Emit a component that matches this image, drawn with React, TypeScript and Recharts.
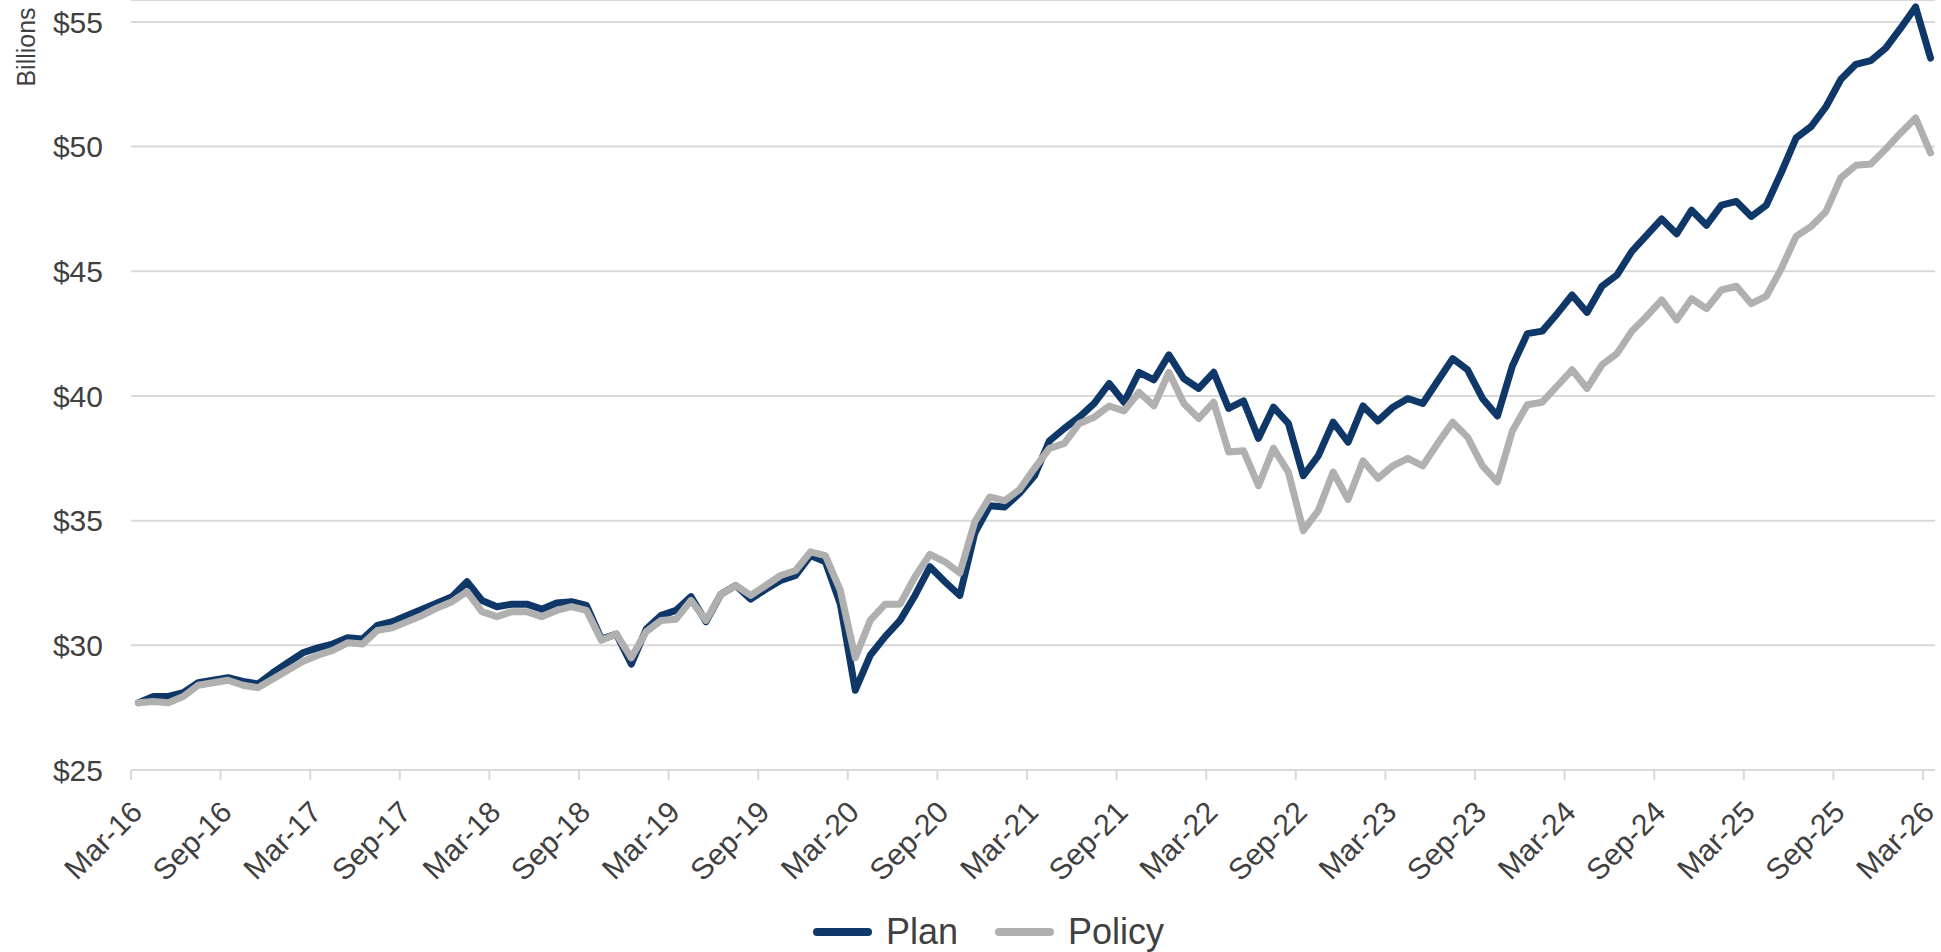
import React from "react";
import { LineChart, Line, CartesianGrid, XAxis, YAxis } from "recharts";

const FONT = '"Liberation Sans", Arial, sans-serif';
const TEXT = "#404040";
const GRID = "#d9d9d9";
const PLAN_COLOR = "#0f3868";
const POLICY_COLOR = "#b0b0b0";

// Monthly market value, Mar-16 through Mar-26, $ billions
const planValues = [
  27.7, 27.95, 27.95, 28.1, 28.5, 28.6, 28.7, 28.55, 28.45, 28.9,
  29.3, 29.7, 29.9, 30.05, 30.3, 30.25, 30.8, 30.95, 31.2, 31.45,
  31.7, 31.95, 32.55, 31.8, 31.55, 31.65, 31.65, 31.45, 31.7, 31.75,
  31.6, 30.25, 30.45, 29.25, 30.65, 31.2, 31.4, 31.95, 30.95, 32.05,
  32.4, 31.85, 32.25, 32.6, 32.8, 33.6, 33.35, 31.65, 28.2, 29.6,
  30.35, 31.0, 32.0, 33.15, 32.55, 32.0, 34.5, 35.6, 35.55, 36.1,
  36.8, 38.2, 38.7, 39.15, 39.7, 40.5, 39.75, 40.95, 40.65, 41.65,
  40.7, 40.3, 40.95, 39.5, 39.8, 38.3, 39.55, 38.9, 36.8, 37.6,
  38.95, 38.15, 39.6, 39.0, 39.55, 39.9, 39.7, 40.6, 41.5, 41.05,
  39.9, 39.2, 41.2, 42.5, 42.6, 43.3, 44.05, 43.35, 44.4, 44.85,
  45.8, 46.45, 47.1, 46.5, 47.45, 46.85, 47.65, 47.8, 47.2, 47.65,
  48.95, 50.35, 50.8, 51.6, 52.7, 53.3, 53.45, 53.95, 54.75, 55.6,
  53.55,
];

const policyValues = [
  27.7, 27.75, 27.7, 27.95, 28.4, 28.5, 28.6, 28.4, 28.3, 28.65,
  29.0, 29.35, 29.6, 29.8, 30.1, 30.05, 30.6, 30.7, 30.95, 31.2,
  31.5, 31.75, 32.15, 31.35, 31.15, 31.35, 31.35, 31.15, 31.4, 31.55,
  31.4, 30.2, 30.45, 29.5, 30.55, 31.0, 31.05, 31.8, 31.0, 32.05,
  32.4, 32.0, 32.4, 32.8, 33.0, 33.75, 33.6, 32.2, 29.5, 31.0,
  31.65, 31.65, 32.75, 33.65, 33.35, 32.9, 34.95, 35.95, 35.8, 36.25,
  37.1, 37.9, 38.1, 38.9, 39.15, 39.6, 39.4, 40.15, 39.6, 40.95,
  39.7, 39.1, 39.75, 37.75, 37.8, 36.4, 37.9, 36.95, 34.6, 35.4,
  36.95, 35.85, 37.4, 36.7, 37.2, 37.5, 37.2, 38.1, 38.95, 38.35,
  37.2, 36.55, 38.6, 39.65, 39.75, 40.4, 41.05, 40.3, 41.25, 41.7,
  42.6, 43.2, 43.85, 43.05, 43.9, 43.5, 44.25, 44.4, 43.7, 44.0,
  45.1, 46.4, 46.8, 47.4, 48.75, 49.25, 49.3, 49.9, 50.55, 51.15,
  49.75,
];

const tickLabels = [
  "Mar-16", "Sep-16", "Mar-17", "Sep-17", "Mar-18", "Sep-18", "Mar-19",
  "Sep-19", "Mar-20", "Sep-20", "Mar-21", "Sep-21", "Mar-22", "Sep-22",
  "Mar-23", "Sep-23", "Mar-24", "Sep-24", "Mar-25", "Sep-25", "Mar-26",
];

const yTicks = [25, 30, 35, 40, 45, 50, 55];

// x is months since Mar-16; each value sits mid-month
const data = planValues.map((plan, i) => ({
  month: i + 0.5,
  plan,
  policy: policyValues[i],
}));

const xTicks = tickLabels.map((_, i) => i * 6);

const DateTick = (props: any) => {
  const { x, y, payload } = props;
  const label = tickLabels[Math.round(payload.value / 6)];
  const ax = x + 13;
  const ay = y + 32;
  return (
    <text
      x={ax}
      y={ay}
      transform={`rotate(-45, ${ax}, ${ay})`}
      textAnchor="end"
      fill={TEXT}
      fontSize={30}
      fontFamily={FONT}
    >
      {label}
    </text>
  );
};

const LegendItem = ({ color, label, left }: { color: string; label: string; left: number }) => (
  <div style={{ position: "absolute", left, top: 912, display: "flex", alignItems: "center" }}>
    <div style={{ width: 59, height: 8, borderRadius: 4, background: color }} />
    <span style={{ fontSize: 36, color: TEXT, fontFamily: FONT, marginLeft: 14, lineHeight: "40px" }}>
      {label}
    </span>
  </div>
);

export default function App() {
  return (
    <div style={{ position: "absolute", left: 0, top: 0, width: 1941, height: 952, background: "#fff" }}>
      <LineChart
        width={1941}
        height={952}
        data={data}
        margin={{ top: 0, right: 6, left: 0, bottom: 0 }}
      >
        <CartesianGrid vertical={false} stroke={GRID} strokeWidth={2} />
        <XAxis
          dataKey="month"
          type="number"
          domain={[0, 120.8]}
          ticks={xTicks}
          interval={0}
          height={182}
          axisLine={{ stroke: GRID, strokeWidth: 2 }}
          tickLine={{ stroke: GRID, strokeWidth: 2 }}
          tickSize={10}
          tick={<DateTick />}
        />
        <YAxis
          type="number"
          domain={[25, 55.88]}
          ticks={yTicks}
          interval={0}
          width={131}
          axisLine={false}
          tickLine={false}
          tickSize={0}
          tickMargin={28}
          tickFormatter={(v: number) => `$${v}`}
          tick={{ fill: TEXT, fontSize: 30, fontFamily: FONT }}
        />
        <Line
          type="linear"
          dataKey="plan"
          stroke={PLAN_COLOR}
          strokeWidth={7}
          strokeLinejoin="round"
          strokeLinecap="round"
          dot={false}
          isAnimationActive={false}
        />
        <Line
          type="linear"
          dataKey="policy"
          stroke={POLICY_COLOR}
          strokeWidth={7}
          strokeLinejoin="round"
          strokeLinecap="round"
          dot={false}
          isAnimationActive={false}
        />
      </LineChart>
      <svg width={60} height={120} style={{ position: "absolute", left: 0, top: 0 }}>
        <text
          x={35}
          y={47}
          transform="rotate(-90, 35, 47)"
          textAnchor="middle"
          fill={TEXT}
          fontSize={25}
          fontFamily={FONT}
        >
          Billions
        </text>
      </svg>
      <LegendItem color={PLAN_COLOR} label="Plan" left={813} />
      <LegendItem color={POLICY_COLOR} label="Policy" left={995} />
    </div>
  );
}
